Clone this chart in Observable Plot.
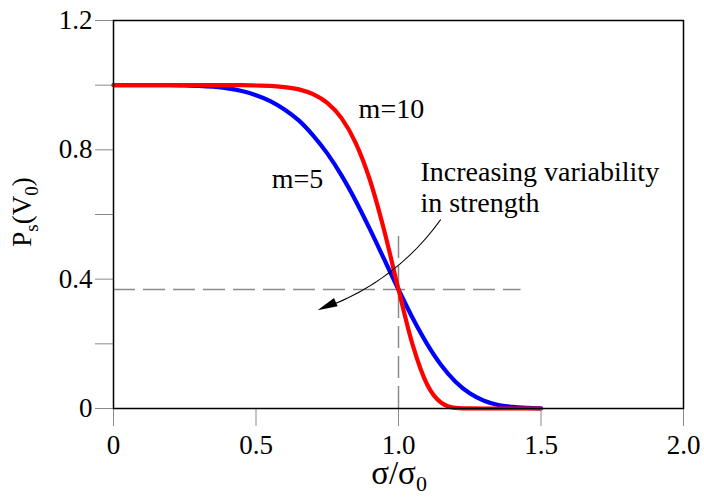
<!DOCTYPE html>
<html>
<head>
<meta charset="utf-8">
<script src="https://cdn.jsdelivr.net/npm/d3@7"></script>
<script src="https://cdn.jsdelivr.net/npm/@observablehq/plot@0.6"></script>
<style>
  body { margin: 0; background: #fff; }
  #chart svg { display: block; }
  #chart svg text, #chart svg tspan { font-family: "Liberation Serif", serif; }
</style>
</head>
<body>
<div id="chart"></div>
<script>
// σ/σ0 sample positions
const sigmaRatio = [0,0.05,0.1,0.15,0.2,0.25,0.3,0.35,0.4,0.45,0.5,0.55,0.6,0.65,0.7,0.75,0.8,0.85,0.9,0.95,1.0,1.05,1.1,1.15,1.2,1.25,1.3,1.35,1.4,1.45,1.5];
// survival probability, m = 5 (blue)
const psM5 = [1,1,1,1,1,0.999,0.998,0.995,0.990,0.982,0.969,0.951,0.925,0.891,0.845,0.789,0.721,0.642,0.554,0.461,0.368,0.279,0.200,0.134,0.083,0.047,0.024,0.011,0.005,0.002,0.0005];
// survival probability, m = 10 (red)
const psM10 = [1,1,1,1,1,1,1,1,1,1,0.999,0.998,0.994,0.987,0.972,0.945,0.898,0.821,0.706,0.550,0.368,0.196,0.075,0.018,0.002,0.0001,0,0,0,0,0];

const yTicks = [0, 0.4, 0.8, 1.2];
const yMinorTicks = [0.2, 0.6, 1.0];
const xTicks = [0, 0.5, 1.0, 1.5, 2.0];

const refLevel = [0.368];   // horizontal dashed reference
const refSigma = [1.0];     // vertical dashed reference

const labels = [
  {x: 0.86, y: 0.926, text: "m=10"},
  {x: 0.555, y: 0.71, text: "m=5"},
  {x: 1.077, y: 0.73, text: "Increasing variability"},
  {x: 1.077, y: 0.634, text: "in strength"}
];
const arrowPath = [{x1: 1.147, y1: 0.583, x2: 0.716, y2: 0.304}];

const m5 = sigmaRatio.map((s, i) => ({s, p: psM5[i]}));
const m10 = sigmaRatio.map((s, i) => ({s, p: psM10[i]}));

const fmt = d => d === 0 ? "0" : d.toFixed(1);

// filled, slender arrowhead glyph (tip at the symbol origin, pointing up)
const arrowHead = {
  draw(ctx) {
    ctx.moveTo(0, 0);
    ctx.lineTo(-4.5, 20);
    ctx.lineTo(4.5, 20);
    ctx.closePath();
  }
};

const chart = Plot.plot({
  width: 704,
  height: 498,
  marginLeft: 113,
  marginRight: 21,
  marginTop: 20,
  marginBottom: 90,
  style: {fontSize: "27px", background: "#fff", color: "#000"},
  x: {domain: [0, 2]},
  y: {domain: [0, 1.2]},
  marks: [
    Plot.ruleY(refLevel, {x1: 0, x2: 1.43, stroke: "#8a8a8a", strokeWidth: 1.5, strokeDasharray: "22,8"}),
    Plot.ruleX(refSigma, {y1: 0, y2: 0.54, stroke: "#8a8a8a", strokeWidth: 1.5, strokeDasharray: "22,8"}),
    Plot.line(m5, {x: "s", y: "p", stroke: "#0000ff", strokeWidth: 4.2, curve: "monotone-x"}),
    Plot.line(m10, {x: "s", y: "p", stroke: "#ff0000", strokeWidth: 4.2, curve: "monotone-x"}),
    Plot.arrow(arrowPath, {x1: "x1", y1: "y1", x2: "x2", y2: "y2", bend: 18, stroke: "#000", strokeWidth: 1.2, headLength: 0, insetEnd: 8}),
    Plot.dot(arrowPath, {x: "x2", y: "y2", symbol: arrowHead, rotate: 246, fill: "#000", stroke: "none"}),
    Plot.text(labels, {x: "x", y: "y", text: "text", textAnchor: "start", lineAnchor: "middle", fontSize: 28, fill: "#000"}),
    Plot.axisY({ticks: yTicks, tickSize: 18, tickPadding: 3, tickFormat: fmt, stroke: "#8a8a8a", fill: "#000", fontSize: 27, label: null}),
    Plot.axisY({ticks: yMinorTicks, tickSize: 18, tickFormat: () => "", stroke: "#8a8a8a", label: null}),
    Plot.axisX({ticks: xTicks, tickSize: 18, tickPadding: 8, tickFormat: fmt, stroke: "#8a8a8a", fill: "#000", fontSize: 27, label: null}),
    Plot.frame({stroke: "#000", strokeWidth: 1.5})
  ]
});

document.getElementById("chart").appendChild(chart);

// axis titles with subscripts
const svg = d3.select(chart);
const xt = svg.append("text")
  .attr("x", 399).attr("y", 484)
  .attr("text-anchor", "middle")
  .attr("font-size", 33).attr("fill", "#000");
xt.append("tspan").text("σ/σ");
xt.append("tspan").attr("font-size", 22).attr("dy", 7).text("0");

const yt = svg.append("text")
  .attr("transform", "translate(31,212) rotate(-90)")
  .attr("text-anchor", "middle")
  .attr("font-size", 27).attr("fill", "#000");
yt.append("tspan").text("P");
yt.append("tspan").attr("font-size", 19).attr("dy", 7).text("s");
yt.append("tspan").attr("dy", -7).text("(V");
yt.append("tspan").attr("font-size", 19).attr("dy", 7).text("0");
yt.append("tspan").attr("dy", -7).text(")");

svg.style("font-family", '"Liberation Serif", serif');
</script>
</body>
</html>
